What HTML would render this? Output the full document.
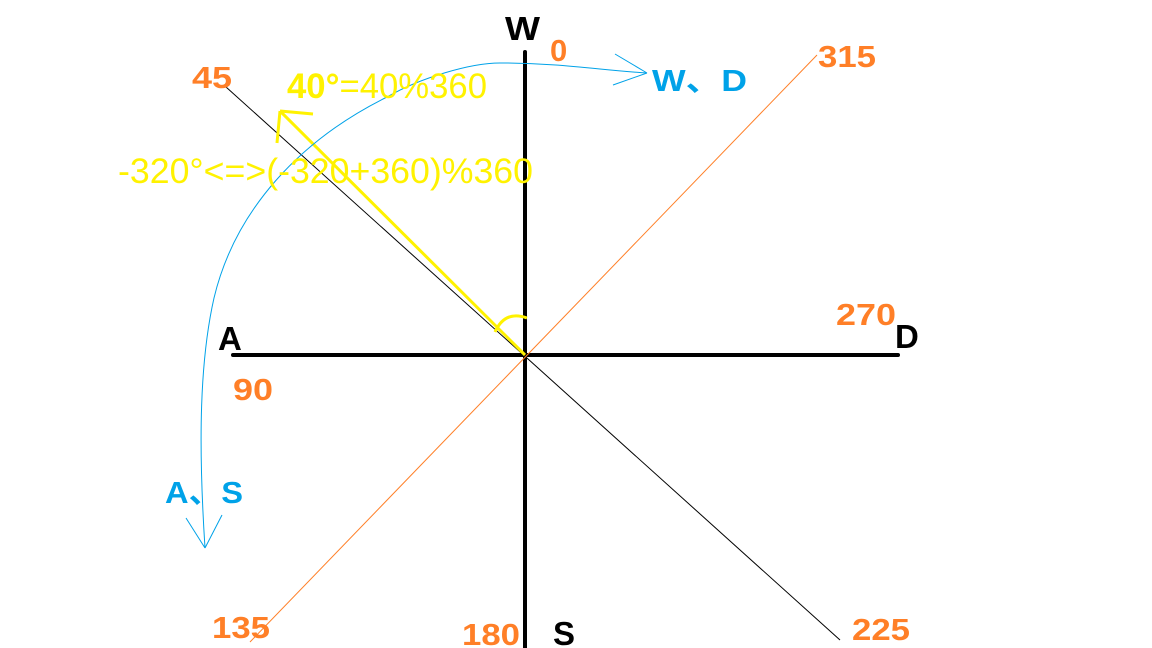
<!DOCTYPE html>
<html><head><meta charset="utf-8"><style>
html,body{margin:0;padding:0;background:#fff;width:1152px;height:648px;overflow:hidden}
svg{display:block}
text{font-family:"Liberation Sans","Noto Sans CJK SC",sans-serif}
.o{fill:#ff7f27;font-weight:bold;font-size:31px}
.k{fill:#000;font-weight:bold;font-size:33px}
.b{fill:#00a2e8;font-weight:bold;font-size:31px}
.y{fill:#fff200;font-size:35px}
</style></head><body>
<svg width="1152" height="648" viewBox="0 0 1152 648">
<line x1="525" y1="52" x2="525" y2="648" stroke="#000" stroke-width="4" stroke-linecap="round"/>
<line x1="233" y1="355" x2="898" y2="355" stroke="#000" stroke-width="4" stroke-linecap="round"/>
<line x1="226" y1="87" x2="840" y2="640" stroke="#000" stroke-width="1"/>
<line x1="817" y1="55" x2="250" y2="642" stroke="#ff7f27" stroke-width="1"/>
<g stroke="#fff200" stroke-width="3" fill="none">
<line x1="525" y1="355" x2="280" y2="111"/>
<path d="M280 111 L313 114 M280 111 L277 143"/>
<path d="M495 332 Q505 310 527 318"/>
</g>
<g stroke="#00a2e8" stroke-width="1" fill="none">
<path d="M205 548 C198 440 200 360 214 298 C235 210 300 140 387 97 C420 78 470 63 500 63 C560 63 600 70 647 73"/>
<path d="M647 73 L615 54 M647 73 L613 85"/>
<path d="M205 548 L186 518 M205 548 L222 515"/>
</g>
<text x="505" y="40" class="k" textLength="35" lengthAdjust="spacingAndGlyphs">W</text>
<text x="550" y="61" class="o">0</text>
<text x="652" y="91" class="b" textLength="95" lengthAdjust="spacingAndGlyphs">W、D</text>
<text x="818" y="67" class="o" textLength="58" lengthAdjust="spacingAndGlyphs">315</text>
<text x="192" y="88" class="o" textLength="40" lengthAdjust="spacingAndGlyphs">45</text>
<text x="287" y="98" class="y" textLength="200" lengthAdjust="spacingAndGlyphs"><tspan font-weight="bold">40°</tspan>=40%360</text>
<text x="118" y="183" class="y" textLength="415" lengthAdjust="spacingAndGlyphs">-320°&lt;=&gt;(-320+360)%360</text>
<text x="836" y="325" class="o" textLength="60" lengthAdjust="spacingAndGlyphs">270</text>
<text x="895" y="348" class="k">D</text>
<text x="218" y="350" class="k">A</text>
<text x="233" y="400" class="o" textLength="40" lengthAdjust="spacingAndGlyphs">90</text>
<text x="165" y="503" class="b" textLength="78" lengthAdjust="spacingAndGlyphs">A、S</text>
<text x="212" y="638" class="o" textLength="58" lengthAdjust="spacingAndGlyphs">135</text>
<text x="462" y="645" class="o" textLength="58" lengthAdjust="spacingAndGlyphs">180</text>
<text x="553" y="645" class="k">S</text>
<text x="852" y="640" class="o" textLength="58" lengthAdjust="spacingAndGlyphs">225</text>
</svg>
</body></html>
